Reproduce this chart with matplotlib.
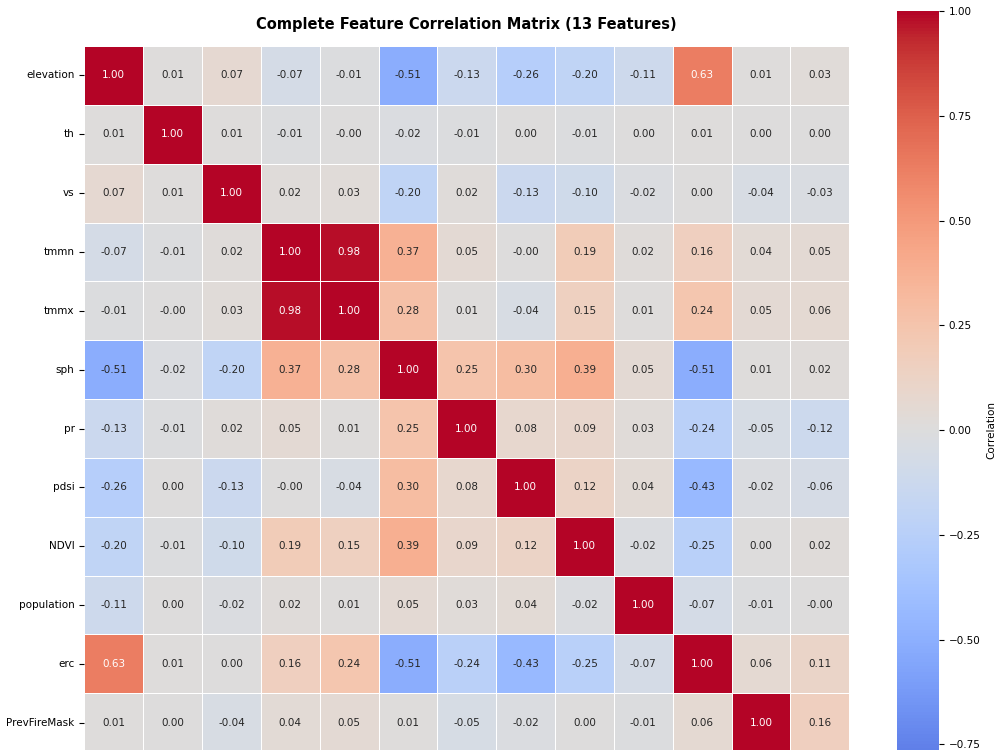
import numpy as np
import matplotlib
matplotlib.use("Agg")
import matplotlib.pyplot as plt
import seaborn as sns

features = ["elevation", "th", "vs", "tmmn", "tmmx", "sph", "pr", "pdsi",
            "NDVI", "population", "erc", "PrevFireMask", "FireMask"]

row_elevation = [1.00, 0.01, 0.07, -0.07, -0.01, -0.51, -0.13, -0.26, -0.20, -0.11, 0.63, 0.01, 0.03]
row_th        = [0.01, 1.00, 0.01, -0.01, -0.00, -0.02, -0.01, 0.00, -0.01, 0.00, 0.01, 0.00, 0.00]
row_vs        = [0.07, 0.01, 1.00, 0.02, 0.03, -0.20, 0.02, -0.13, -0.10, -0.02, 0.00, -0.04, -0.03]
row_tmmn      = [-0.07, -0.01, 0.02, 1.00, 0.98, 0.37, 0.05, -0.00, 0.19, 0.02, 0.16, 0.04, 0.05]
row_tmmx      = [-0.01, -0.00, 0.03, 0.98, 1.00, 0.28, 0.01, -0.04, 0.15, 0.01, 0.24, 0.05, 0.06]
row_sph       = [-0.51, -0.02, -0.20, 0.37, 0.28, 1.00, 0.25, 0.30, 0.39, 0.05, -0.51, 0.01, 0.02]
row_pr        = [-0.13, -0.01, 0.02, 0.05, 0.01, 0.25, 1.00, 0.08, 0.09, 0.03, -0.24, -0.05, -0.12]
row_pdsi      = [-0.26, 0.00, -0.13, -0.00, -0.04, 0.30, 0.08, 1.00, 0.12, 0.04, -0.43, -0.02, -0.06]
row_ndvi      = [-0.20, -0.01, -0.10, 0.19, 0.15, 0.39, 0.09, 0.12, 1.00, -0.02, -0.25, 0.00, 0.02]
row_population= [-0.11, 0.00, -0.02, 0.02, 0.01, 0.05, 0.03, 0.04, -0.02, 1.00, -0.07, -0.01, -0.00]
row_erc       = [0.63, 0.01, 0.00, 0.16, 0.24, -0.51, -0.24, -0.43, -0.25, -0.07, 1.00, 0.06, 0.11]
row_prevfire  = [0.01, 0.00, -0.04, 0.04, 0.05, 0.01, -0.05, -0.02, 0.00, -0.01, 0.06, 1.00, 0.16]
row_firemask  = [0.03, 0.00, -0.03, 0.05, 0.06, 0.02, -0.12, -0.06, 0.02, -0.00, 0.11, 0.16, 1.00]

corr = np.array([row_elevation, row_th, row_vs, row_tmmn, row_tmmx, row_sph, row_pr,
                 row_pdsi, row_ndvi, row_population, row_erc, row_prevfire, row_firemask])

cbar_ticks = [-0.75, -0.50, -0.25, 0.00, 0.25, 0.50, 0.75, 1.00]

W, H = 1000, 750
fig = plt.figure(figsize=(W / 100, H / 100), dpi=100)

def px_rect(left, top, width, height):
    return [left / W, 1 - (top + height) / H, width / W, height / H]

ax = fig.add_axes(px_rect(84.3, 46, 765, 765))
cax = fig.add_axes(px_rect(897.3, 11.3, 41.7, 837.7))

sns.heatmap(corr, ax=ax, cbar_ax=cax, cmap="coolwarm", vmin=-1, vmax=1, center=0,
            annot=True, fmt=".2f", annot_kws={"fontsize": 7.5},
            linewidths=0.5, linecolor="white", square=True,
            xticklabels=features, yticklabels=features,
            cbar_kws={"label": "Correlation", "ticks": cbar_ticks})
ax.set_position(px_rect(84.3, 46, 765, 765))

ax.tick_params(axis="both", labelsize=7.5)
ax.set_yticklabels(features, rotation=0)
# The view is cropped at the bottom: x tick labels, the last row's label
# and its annotations fall outside the canvas, as in the reference.
ax.set_xticklabels([])
ax.tick_params(axis="x", length=0)
n = len(features)
for t in ax.texts:
    x, y = t.get_position()
    if y > n - 1:
        t.set_visible(False)
ylabels = ax.get_yticklabels()
ylabels[-1].set_visible(False)

ax.set_title("Complete Feature Correlation Matrix (13 Features)",
             fontsize=10.5, fontweight="bold", pad=12)

cax.tick_params(labelsize=7.5)
cax.set_yticklabels([f"{v:.2f}".replace("-", "\u2212") for v in cbar_ticks])
cax.set_ylabel("Correlation", fontsize=7.5)

fig.savefig("out.png", dpi=100)
